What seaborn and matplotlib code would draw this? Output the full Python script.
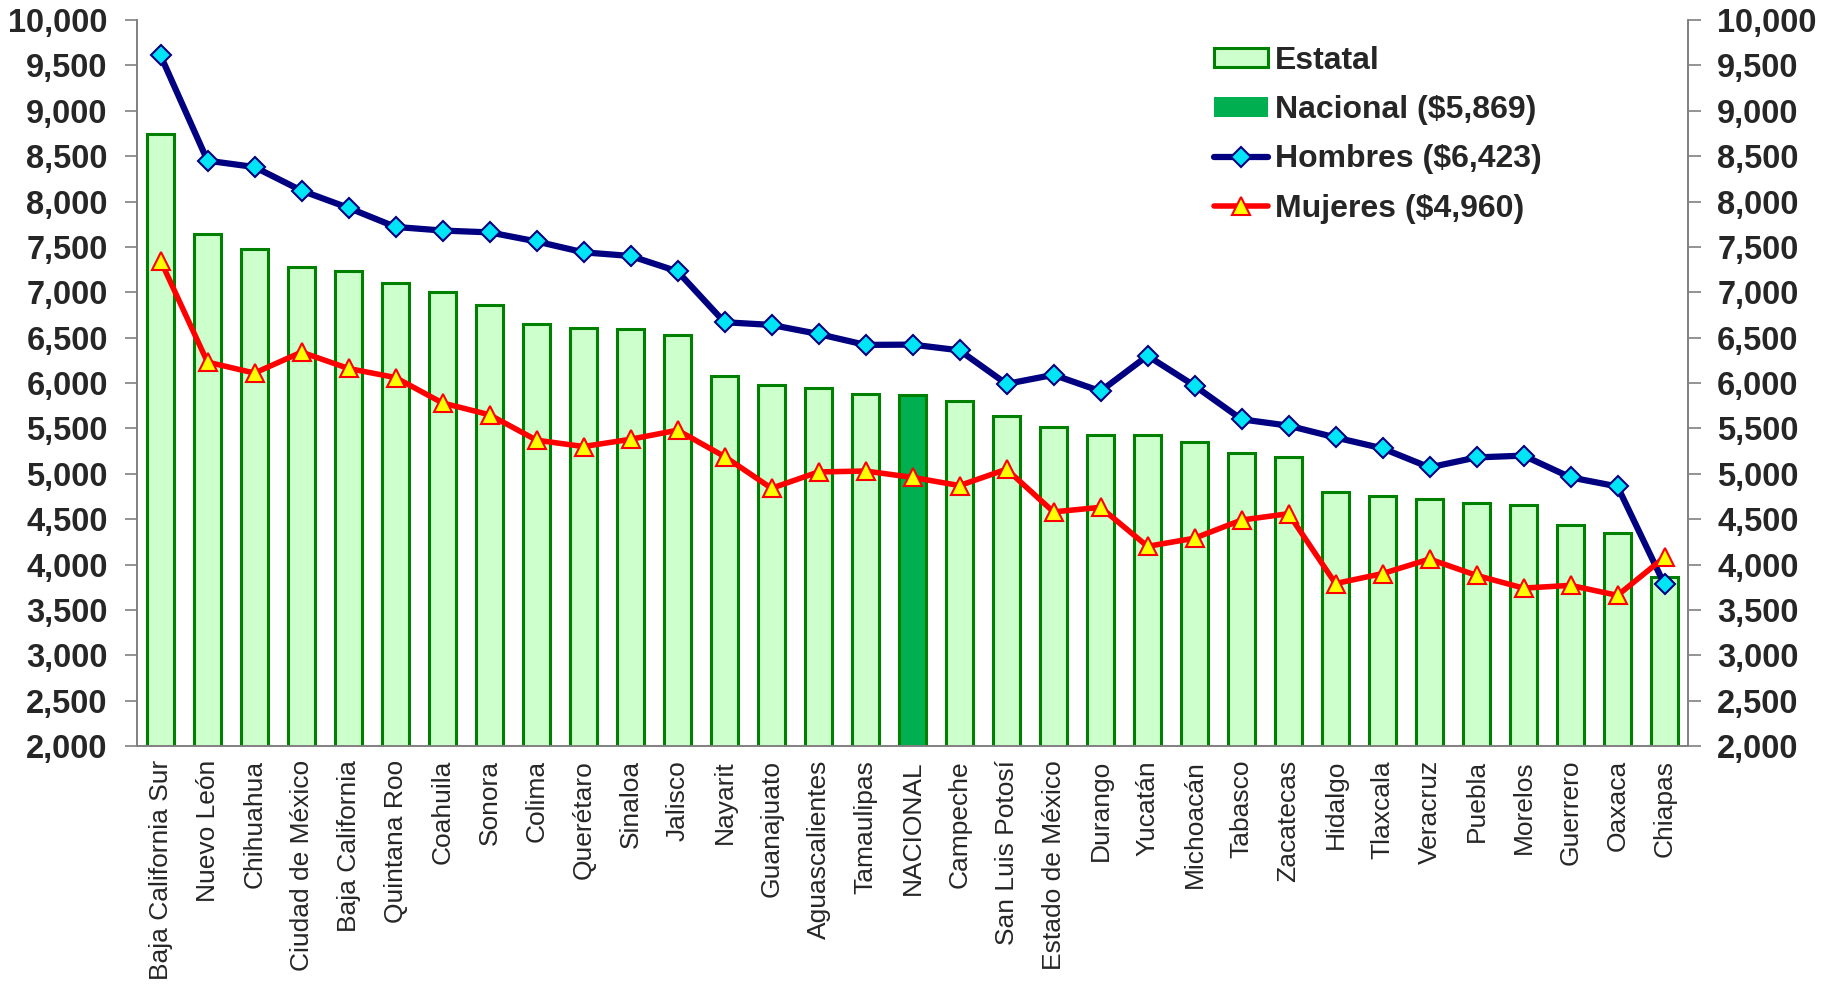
import numpy as np
import pandas as pd
import matplotlib
matplotlib.use("Agg")
import matplotlib.pyplot as plt
from matplotlib.ticker import FixedLocator, FuncFormatter
from matplotlib.patches import Patch
from matplotlib.lines import Line2D
import seaborn as sns

estados = ["Baja California Sur", "Nuevo León", "Chihuahua", "Ciudad de México",
           "Baja California", "Quintana Roo", "Coahuila", "Sonora", "Colima",
           "Querétaro", "Sinaloa", "Jalisco", "Nayarit", "Guanajuato",
           "Aguascalientes", "Tamaulipas", "NACIONAL", "Campeche",
           "San Luis Potosí", "Estado de México", "Durango", "Yucatán",
           "Michoacán", "Tabasco", "Zacatecas", "Hidalgo", "Tlaxcala",
           "Veracruz", "Puebla", "Morelos", "Guerrero", "Oaxaca", "Chiapas"]

estatal = [8740, 7640, 7480, 7280, 7230, 7100, 7000, 6860, 6650, 6610, 6600,
           6530, 6080, 5980, 5950, 5880, 5869, 5800, 5640, 5520, 5430, 5430,
           5350, 5230, 5190, 4800, 4750, 4720, 4680, 4660, 4440, 4350, 3860]

hombres = [9610, 8450, 8380, 8120, 7930, 7720, 7680, 7660, 7560, 7440, 7400,
           7230, 6670, 6640, 6540, 6420, 6423, 6360, 5990, 6090, 5910, 6300,
           5970, 5600, 5530, 5400, 5280, 5070, 5180, 5200, 4960, 4860, 3780]

mujeres = [7350, 6230, 6110, 6340, 6160, 6060, 5780, 5650, 5370, 5300, 5380,
           5480, 5190, 4840, 5020, 5030, 4960, 4870, 5050, 4580, 4630, 4200,
           4290, 4490, 4560, 3790, 3900, 4060, 3880, 3740, 3770, 3660, 4080]

legend_labels = ["Estatal", "Nacional ($5,869)", "Hombres ($6,423)", "Mujeres ($4,960)"]
yticks = list(range(2000, 10001, 500))

sns.set_style("white")
plt.rcParams["font.family"] = ["Liberation Sans", "DejaVu Sans"]

df = pd.DataFrame({"estado": estados, "estatal": estatal,
                   "hombres": hombres, "mujeres": mujeres})
df["pos"] = np.arange(len(df))
df["tipo"] = np.where(df["estado"] == "NACIONAL", "Nacional", "Estatal")

fig = plt.figure(figsize=(18.34, 9.86), dpi=100)
ax = fig.add_axes([0.0747, 0.2434, 0.9204 - 0.0747, 0.9797 - 0.2434])

light = "#CCFFCC"
dark = "#00B050"
edge = "#008000"

sns.barplot(data=df, x="pos", y="estatal", hue="tipo",
            palette={"Estatal": light, "Nacional": dark}, saturation=1,
            dodge=False, width=0.58, edgecolor=edge, linewidth=2.2,
            legend=False, ax=ax, zorder=2)

sns.lineplot(data=df, x="pos", y="hombres", sort=False, color="#000080",
             linewidth=4.5, marker="D", markersize=10,
             markerfacecolor="#00E5F5", markeredgecolor="#000080",
             markeredgewidth=1.5, ax=ax, zorder=4, legend=False)
sns.lineplot(data=df, x="pos", y="mujeres", sort=False, color="#FF0000",
             linewidth=4.0, marker="^", markersize=13,
             markerfacecolor="#FFFF00", markeredgecolor="#FF0000",
             markeredgewidth=1.5, ax=ax, zorder=5, legend=False)

n = len(estados)
ax.set_xlim(-0.5, n - 0.5)
ax.set_ylim(2000, 10000)
ax.set_xlabel("")
ax.set_ylabel("")

fmt = FuncFormatter(lambda v, p: f"{int(v):,}")
ax.yaxis.set_major_locator(FixedLocator(yticks))
ax.yaxis.set_major_formatter(fmt)
ax.set_xticks(np.arange(n))
ax.set_xticklabels(estados, rotation=90, fontsize=19)
ax.xaxis.set_minor_locator(FixedLocator(np.arange(-0.5, n, 1.0)))
ax.tick_params(axis="x", which="major", length=0, pad=10)
ax.tick_params(axis="x", which="minor", length=8, width=1.2, color="#808080", direction="out")
ax.tick_params(axis="y", length=9, width=1.2, color="#808080", direction="out",
               pad=12, labelsize=23.5)
for lab in ax.get_yticklabels():
    lab.set_fontweight("bold")

ax.spines["top"].set_visible(False)
for s in ["left", "right", "bottom"]:
    ax.spines[s].set_color("#808080")
    ax.spines[s].set_linewidth(1.2)

ax2 = ax.twinx()
ax2.set_ylim(2000, 10000)
ax2.yaxis.set_major_locator(FixedLocator(yticks))
ax2.yaxis.set_major_formatter(fmt)
ax2.tick_params(axis="y", length=9, width=1.2, color="#808080", direction="out",
                pad=12, labelsize=23.5)
for lab in ax2.get_yticklabels():
    lab.set_fontweight("bold")
ax2.spines["top"].set_visible(False)
for s in ["left", "right", "bottom"]:
    ax2.spines[s].set_color("#808080")
    ax2.spines[s].set_linewidth(1.2)

handles = [
    Patch(facecolor=light, edgecolor=edge, linewidth=2.2),
    Patch(facecolor=dark, edgecolor=dark, linewidth=0),
    Line2D([], [], color="#000080", linewidth=4.5, marker="D", markersize=10,
           markerfacecolor="#00E5F5", markeredgecolor="#000080", markeredgewidth=1.5),
    Line2D([], [], color="#FF0000", linewidth=4.0, marker="^", markersize=13,
           markerfacecolor="#FFFF00", markeredgecolor="#FF0000", markeredgewidth=1.5),
]
leg = ax2.legend(handles, legend_labels, loc="upper left",
                 bbox_to_anchor=(0.6944, 0.964), frameon=False,
                 borderpad=0, borderaxespad=0, handlelength=1.7,
                 handleheight=0.55, handletextpad=0.2, labelspacing=0.6,
                 numpoints=1, prop={"weight": "bold", "size": 23})

fig.savefig("out.png", dpi=100)
